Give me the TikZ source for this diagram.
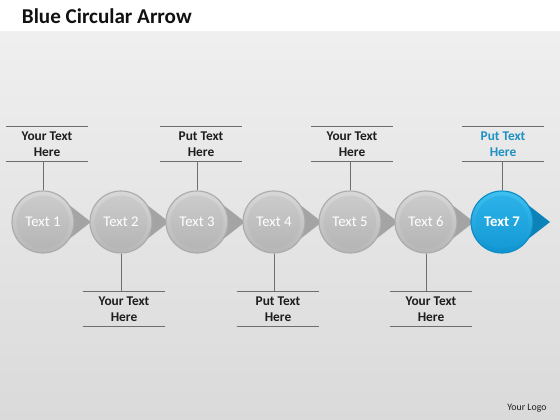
\documentclass[tikz,border=0pt]{standalone}
\usepackage{fontspec}
\setmainfont{Carlito}
\usepackage{xcolor}
\usepackage{tikz}
\usetikzlibrary{calc}
\definecolor{titleInk}{HTML}{111111}
\definecolor{labelInk}{HTML}{1E1E1E}
\definecolor{ruleInk}{HTML}{6E6E6E}
\definecolor{pageTop}{HTML}{EFEFEF}
\definecolor{pageMid}{HTML}{F7F7F7}
\definecolor{pageBottom}{HTML}{DADADA}
\definecolor{ballRim}{HTML}{ABABAB}
\definecolor{ballTop}{HTML}{D8D8D8}
\definecolor{ballBottom}{HTML}{B6B6B6}
\definecolor{innerTop}{HTML}{CDCDCD}
\definecolor{innerBottom}{HTML}{B3B3B3}
\definecolor{tipGrey}{HTML}{A4A4A4}
\definecolor{blueRim}{HTML}{0C8CC6}
\definecolor{blueTop}{HTML}{3FC0F0}
\definecolor{blueBottom}{HTML}{0E93CF}
\definecolor{blueInnerTop}{HTML}{2EB4EA}
\definecolor{blueInnerBottom}{HTML}{1398D4}
\definecolor{tipBlue}{HTML}{0C82B8}
\definecolor{blueInk}{HTML}{1E90C3}
\tikzset{
  baseBall/.style={circle, minimum size=1.55cm, inner sep=0pt, line width=0.8pt,
    font=\fontsize{10.5}{12}\selectfont, text=white},
  greyBall/.style={baseBall, draw=ballRim, top color=ballTop, bottom color=ballBottom,
    path picture={\shade[top color=innerTop, bottom color=innerBottom]
      (path picture bounding box.center) circle (0.66cm);}},
  blueBall/.style={baseBall, draw=blueRim, top color=blueTop, bottom color=blueBottom,
    path picture={\shade[top color=blueInnerTop, bottom color=blueInnerBottom]
      (path picture bounding box.center) circle (0.66cm);}},
  noteBox/.style={minimum width=2.05cm, minimum height=0.85cm, inner sep=0pt,
    align=center, text=labelInk, font=\bfseries\fontsize{9.5}{11.3}\selectfont},
  noteRule/.style={draw=ruleInk, line width=0.6pt},
  titleText/.style={text=titleInk, font=\bfseries\fontsize{15}{18}\selectfont},
  logoText/.style={text=labelInk, font=\fontsize{7}{8}\selectfont}
}
\begin{document}
\begin{tikzpicture}[x=0.025cm, y=-0.025cm]
  % page
  \useasboundingbox (0,0) rectangle (560,420);
  \fill[white] (0,0) rectangle (560,32);
  \shade[top color=pageTop, middle color=pageMid, bottom color=pageBottom] (0,32) rectangle (560,420);
  \node[titleText, anchor=west] (title) at (17,16) {Blue Circular Arrow};
  \node[logoText] (logo) at (527,408) {Your Logo};

  % balls with their arrow tips
  \foreach \n/\x in {1/43,2/121,3/197,4/274,5/350,6/426} {
    \fill[tipGrey] (\x+12,194) -- (\x+48,222) -- (\x+12,250) -- cycle;
    \node[greyBall] (ball\n) at (\x,222) {Text \n};
  }
  \fill[tipBlue] (514,194) -- (550,222) -- (514,250) -- cycle;
  \node[blueBall, font=\bfseries\fontsize{10.5}{12}\selectfont] (ball7) at (502,222) {Text 7};

  % notes
  \node[noteBox] (note1) at (47,144) {Your Text\\Here};
  \node[noteBox] (note3) at (201,144) {Put Text\\Here};
  \node[noteBox] (note5) at (352,144) {Your Text\\Here};
  \node[noteBox, text=blueInk] (note7) at (503,144) {Put Text\\Here};
  \node[noteBox] (note2) at (124,309) {Your Text\\Here};
  \node[noteBox] (note4) at (278,309) {Put Text\\Here};
  \node[noteBox] (note6) at (431,309) {Your Text\\Here};

  \foreach \n in {1,...,7} {
    \draw[noteRule] (note\n.north west) -- (note\n.north east);
    \draw[noteRule] (note\n.south west) -- (note\n.south east);
  }
  \foreach \n in {1,3,5,7}
    \draw[noteRule] (ball\n.north |- note\n.south) -- (ball\n.north);
  \foreach \n in {2,4,6}
    \draw[noteRule] (ball\n.south) -- (ball\n.south |- note\n.north);
\end{tikzpicture}
\end{document}
